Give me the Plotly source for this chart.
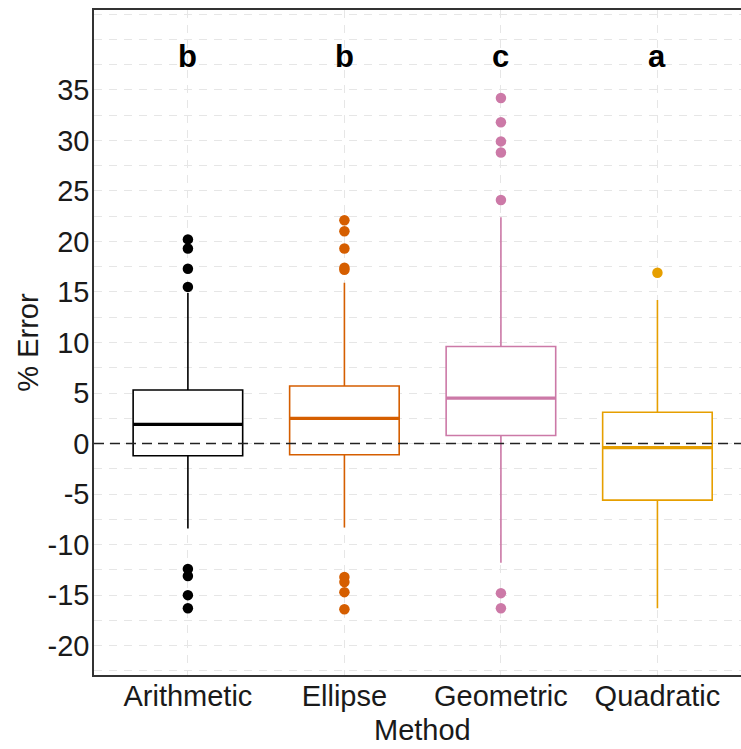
import plotly.graph_objects as go

# Summary statistics of % error for each estimation method
methods = ["Arithmetic", "Ellipse", "Geometric", "Quadratic"]
colors = ["#000000", "#D55E00", "#CC79A7", "#E69F00"]
q1 = [-1.2, -1.1, 0.8, -5.6]
median = [1.9, 2.5, 4.5, -0.4]
q3 = [5.3, 5.7, 9.6, 3.1]
lower_whisker = [-8.4, -8.3, -11.8, -16.3]
upper_whisker = [14.9, 15.9, 22.4, 14.2]
outliers = [
    [20.2, 19.3, 17.3, 15.5, -12.4, -13.1, -15.0, -16.3],
    [22.1, 21.0, 19.3, 17.4, 17.2, -13.2, -13.7, -14.7, -16.4],
    [34.2, 31.8, 29.9, 28.8, 24.1, -14.8, -16.3],
    [16.9],
]
group_letters = ["b", "b", "c", "a"]
letter_y = 38.3

y_ticks = list(range(-20, 40, 5))
y_tick_text = [str(v) for v in y_ticks]  # plain hyphen-minus labels
y_minor = [v / 2 for v in range(-45, 90, 5) if (v / 2) not in y_ticks]

BOX_W = 0.7
FONT = "Liberation Sans, Arial, sans-serif"
GRID = "#e6e6e6"

fig = go.Figure()

for i, m in enumerate(methods):
    pos = i + 1
    fig.add_trace(go.Box(
        x=[pos], q1=[q1[i]], median=[median[i]], q3=[q3[i]],
        lowerfence=[lower_whisker[i]], upperfence=[upper_whisker[i]],
        width=BOX_W, whiskerwidth=0,
        line=dict(color=colors[i], width=1.6),
        fillcolor="white", boxpoints=False, showlegend=False, name=m,
    ))
    # heavier median bar
    fig.add_trace(go.Scatter(
        x=[pos - BOX_W / 2, pos + BOX_W / 2], y=[median[i], median[i]],
        mode="lines", line=dict(color=colors[i], width=3.2),
        showlegend=False, hoverinfo="skip",
    ))
    fig.add_trace(go.Scatter(
        x=[pos] * len(outliers[i]), y=outliers[i], mode="markers",
        marker=dict(color=colors[i], size=10.5, line=dict(width=0)),
        showlegend=False,
    ))
    fig.add_annotation(
        x=pos, y=letter_y, text=f"<b>{group_letters[i]}</b>", showarrow=False,
        font=dict(family=FONT, size=31, color="black"), yanchor="middle",
    )

# x-axis title, placed below the category labels
fig.add_annotation(
    x=0.507, y=-0.0827, xref="paper", yref="paper", text="Method",
    showarrow=False, xanchor="center", yanchor="middle",
    font=dict(family=FONT, size=29, color="#1a1a1a"),
)

# reference line at zero error
fig.add_hline(y=0, line=dict(color="#222222", width=1.6, dash="10px,6px"), layer="above")

fig.update_layout(
    width=741, height=749,
    margin=dict(l=94, r=0, t=10, b=74),
    paper_bgcolor="white", plot_bgcolor="white",
    boxmode="overlay",
    font=dict(family=FONT, size=29, color="#1a1a1a"),
)
fig.update_xaxes(
    range=[0.4, 4.534],
    tickmode="array", tickvals=[1, 2, 3, 4], ticktext=methods,
    ticklabelstandoff=-6,
    showgrid=True, gridcolor=GRID, griddash="8px,7px", gridwidth=1.2,
    showline=True, linecolor="#333333", linewidth=1.5, mirror=True,
    ticks="", zeroline=False,
    automargin=False,
)
fig.update_yaxes(
    range=[-22.9, 42.9],
    tickmode="array", tickvals=y_ticks, ticktext=y_tick_text,
    ticklabelstandoff=-3,
    showgrid=True, gridcolor=GRID, griddash="8px,7px", gridwidth=1.2,
    minor=dict(tickmode="array", tickvals=y_minor, showgrid=True,
               gridcolor=GRID, griddash="8px,7px", gridwidth=1.0),
    showline=True, linecolor="#333333", linewidth=1.5, mirror=False,
    ticks="", zeroline=False,
    title=dict(text="% Error", standoff=0, font=dict(size=29)),
    automargin=False,
)

fig.write_html("out.html")
